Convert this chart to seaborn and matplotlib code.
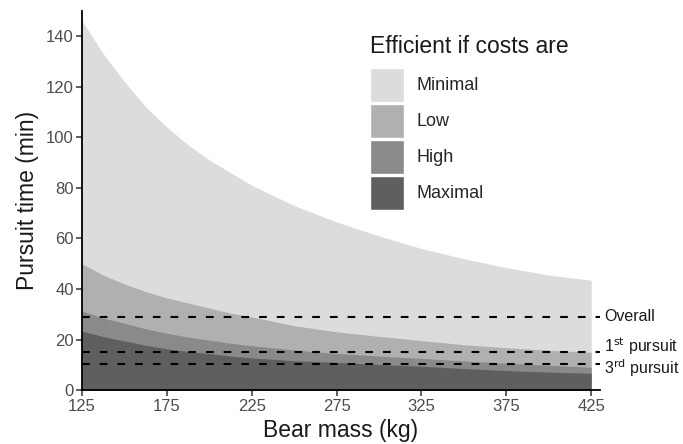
import pandas as pd
import seaborn as sns
import matplotlib.pyplot as plt
from matplotlib.patches import Patch

# data
bear_mass = [125, 137.5, 150, 162.5, 175, 187.5, 200, 212.5, 225, 250, 275, 300,
             325, 350, 375, 400, 425]
minimal = [146, 133, 122, 112, 104, 97, 91, 86, 81, 73, 66.5, 61,
           56, 52, 48.5, 45.5, 43.5]
low = [50, 45.5, 42, 39, 36.5, 34.5, 32.5, 30.5, 29, 25.5, 23.1, 21.3,
       19.6, 18, 16.8, 15.8, 15]
high = [31.3, 28.5, 26.5, 24.3, 22.5, 21, 19.8, 18.6, 17.6, 15.9, 14.6, 13.5,
        12.6, 11.6, 10.7, 9.9, 9.1]
maximal = [23.4, 21.2, 19.5, 17.8, 16.4, 15.3, 14.5, 13.5, 12.8, 11.7, 11.0, 10.2,
           9.5, 8.6, 7.8, 7.2, 6.7]

cost_levels = ['Minimal', 'Low', 'High', 'Maximal']
cost_colors = ['#dcdcdc', '#b0b0b0', '#8a8a8a', '#5f5f5f']

ref_times = [29.1, 15.0, 10.3]
ref_labels = ['Overall', r'1$^{\mathrm{st}}$ pursuit', r'3$^{\mathrm{rd}}$ pursuit']
ref_label_y = [29.1, 17.3, 8.9]

df = pd.DataFrame({'mass': bear_mass, 'Minimal': minimal, 'Low': low,
                   'High': high, 'Maximal': maximal})

sns.set_theme(style='ticks')
plt.rcParams['font.family'] = ['Liberation Sans', 'DejaVu Sans']
plt.rcParams['mathtext.default'] = 'regular'

fig = plt.figure(figsize=(6.83, 4.44), dpi=100)
ax = fig.add_axes([0.12, 0.121, 0.758, 0.855])

for level, color in zip(cost_levels, cost_colors):
    ax.fill_between(df['mass'], 0, df[level], color=color, linewidth=0)

for t in ref_times:
    ax.axhline(t, color='black', lw=1.5, linestyle=(0, (3.7, 4.8)))

for lab, y in zip(ref_labels, ref_label_y):
    ax.annotate(lab, xy=(1, y), xycoords=('axes fraction', 'data'),
                xytext=(3, 0), textcoords='offset points',
                va='center', ha='left', fontsize=11.5, color='#1a1a1a',
                annotation_clip=False)

ax.set_xlim(125, 430)
ax.set_ylim(0, 150)
ax.set_xticks([125, 175, 225, 275, 325, 375, 425])
ax.set_yticks([0, 20, 40, 60, 80, 100, 120, 140])
ax.set_xlabel('Bear mass (kg)', fontsize=16.5, labelpad=4, color='#1a1a1a')
ax.set_ylabel('Pursuit time (min)', fontsize=16.5, labelpad=5, color='#1a1a1a')
ax.tick_params(axis='both', labelsize=12, length=4, width=1.1,
               color='#333333', labelcolor='#4d4d4d', pad=2)
sns.despine(ax=ax)
for s in ['left', 'bottom']:
    ax.spines[s].set_linewidth(1.3)
    ax.spines[s].set_color('black')

handles = [Patch(facecolor=c, edgecolor='white', linewidth=1) for c in cost_colors]
leg = ax.legend(handles, cost_levels, title='Efficient if costs are',
                loc='upper left', bbox_to_anchor=(0.539, 0.96),
                frameon=False, fontsize=13, title_fontsize=16.5,
                handlelength=1.88, handleheight=2.52, labelspacing=0.11,
                handletextpad=0.7, borderpad=0, alignment='left')
leg.get_title().set_color('#1a1a1a')
leg._legend_box.sep = 7  # a bit more room under the legend title

plt.savefig('out.png', dpi=100)
